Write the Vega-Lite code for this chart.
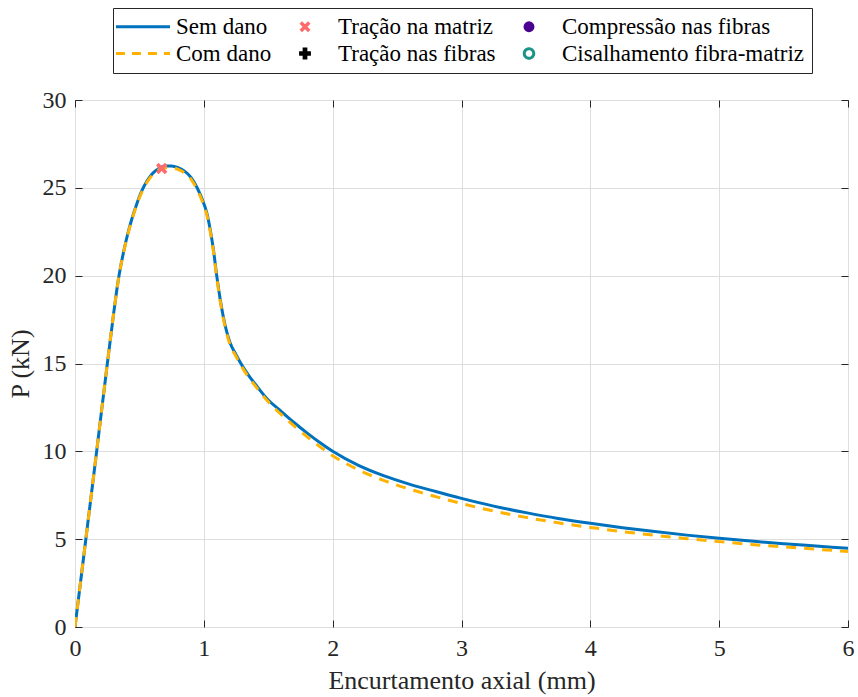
{
  "$schema": "https://vega.github.io/schema/vega-lite/v6.json",
  "autosize": {"type": "none"},
  "width": 773,
  "height": 527,
  "padding": {"left": 75, "top": 100, "right": 10, "bottom": 70},
  "background": "white",
  "config": {
    "font": "Liberation Serif",
    "view": {"stroke": "#262626", "strokeWidth": 1},
    "axis": {
      "labelFont": "Liberation Serif",
      "titleFont": "Liberation Serif",
      "labelFontSize": 24,
      "titleFontSize": 26,
      "titleFontWeight": "normal",
      "labelColor": "#262626",
      "titleColor": "#262626",
      "domainColor": "#262626",
      "tickColor": "#262626",
      "gridColor": "#DEDEDE",
      "gridWidth": 1
    }
  },
  "resolve": {"axis": {"x": "independent", "y": "independent"}},
  "datasets": {
    "curvas": [
      {"x": 0, "P": 0, "serie": "Sem dano"},
      {"x": 0.085, "P": 5.05, "serie": "Sem dano"},
      {"x": 0.168, "P": 10.0, "serie": "Sem dano"},
      {"x": 0.251, "P": 15.0, "serie": "Sem dano"},
      {"x": 0.3, "P": 17.85, "serie": "Sem dano"},
      {"x": 0.32, "P": 18.95, "serie": "Sem dano"},
      {"x": 0.336, "P": 19.75, "serie": "Sem dano"},
      {"x": 0.355, "P": 20.55, "serie": "Sem dano"},
      {"x": 0.38, "P": 21.45, "serie": "Sem dano"},
      {"x": 0.41, "P": 22.4, "serie": "Sem dano"},
      {"x": 0.44, "P": 23.2, "serie": "Sem dano"},
      {"x": 0.48, "P": 24.1, "serie": "Sem dano"},
      {"x": 0.52, "P": 24.85, "serie": "Sem dano"},
      {"x": 0.56, "P": 25.4, "serie": "Sem dano"},
      {"x": 0.6, "P": 25.8, "serie": "Sem dano"},
      {"x": 0.65, "P": 26.1, "serie": "Sem dano"},
      {"x": 0.7, "P": 26.24, "serie": "Sem dano"},
      {"x": 0.75, "P": 26.25, "serie": "Sem dano"},
      {"x": 0.8, "P": 26.15, "serie": "Sem dano"},
      {"x": 0.85, "P": 25.95, "serie": "Sem dano"},
      {"x": 0.9, "P": 25.6, "serie": "Sem dano"},
      {"x": 0.945, "P": 25.05, "serie": "Sem dano"},
      {"x": 0.99, "P": 24.3, "serie": "Sem dano"},
      {"x": 1.022, "P": 23.6, "serie": "Sem dano"},
      {"x": 1.05, "P": 22.6, "serie": "Sem dano"},
      {"x": 1.074, "P": 21.5, "serie": "Sem dano"},
      {"x": 1.1, "P": 20.0, "serie": "Sem dano"},
      {"x": 1.126, "P": 18.7, "serie": "Sem dano"},
      {"x": 1.15, "P": 17.7, "serie": "Sem dano"},
      {"x": 1.2, "P": 16.25, "serie": "Sem dano"},
      {"x": 1.25, "P": 15.5, "serie": "Sem dano"},
      {"x": 1.3, "P": 14.85, "serie": "Sem dano"},
      {"x": 1.35, "P": 14.3, "serie": "Sem dano"},
      {"x": 1.4, "P": 13.82, "serie": "Sem dano"},
      {"x": 1.5, "P": 12.92, "serie": "Sem dano"},
      {"x": 1.6, "P": 12.28, "serie": "Sem dano"},
      {"x": 1.7, "P": 11.64, "serie": "Sem dano"},
      {"x": 1.8, "P": 11.05, "serie": "Sem dano"},
      {"x": 1.9, "P": 10.5, "serie": "Sem dano"},
      {"x": 2.0, "P": 10.0, "serie": "Sem dano"},
      {"x": 2.2, "P": 9.2, "serie": "Sem dano"},
      {"x": 2.4, "P": 8.6, "serie": "Sem dano"},
      {"x": 2.6, "P": 8.12, "serie": "Sem dano"},
      {"x": 2.8, "P": 7.71, "serie": "Sem dano"},
      {"x": 3.0, "P": 7.32, "serie": "Sem dano"},
      {"x": 3.25, "P": 6.88, "serie": "Sem dano"},
      {"x": 3.5, "P": 6.51, "serie": "Sem dano"},
      {"x": 3.75, "P": 6.18, "serie": "Sem dano"},
      {"x": 4.0, "P": 5.9, "serie": "Sem dano"},
      {"x": 4.25, "P": 5.65, "serie": "Sem dano"},
      {"x": 4.5, "P": 5.43, "serie": "Sem dano"},
      {"x": 4.75, "P": 5.23, "serie": "Sem dano"},
      {"x": 5.0, "P": 5.05, "serie": "Sem dano"},
      {"x": 5.25, "P": 4.89, "serie": "Sem dano"},
      {"x": 5.5, "P": 4.74, "serie": "Sem dano"},
      {"x": 5.75, "P": 4.61, "serie": "Sem dano"},
      {"x": 6.0, "P": 4.48, "serie": "Sem dano"},
      {"x": 0, "P": 0, "serie": "Com dano"},
      {"x": 0.085, "P": 5.05, "serie": "Com dano"},
      {"x": 0.168, "P": 10.0, "serie": "Com dano"},
      {"x": 0.251, "P": 15.0, "serie": "Com dano"},
      {"x": 0.3, "P": 17.85, "serie": "Com dano"},
      {"x": 0.32, "P": 18.95, "serie": "Com dano"},
      {"x": 0.336, "P": 19.75, "serie": "Com dano"},
      {"x": 0.355, "P": 20.55, "serie": "Com dano"},
      {"x": 0.38, "P": 21.42, "serie": "Com dano"},
      {"x": 0.41, "P": 22.35, "serie": "Com dano"},
      {"x": 0.44, "P": 23.15, "serie": "Com dano"},
      {"x": 0.48, "P": 24.05, "serie": "Com dano"},
      {"x": 0.52, "P": 24.78, "serie": "Com dano"},
      {"x": 0.56, "P": 25.33, "serie": "Com dano"},
      {"x": 0.6, "P": 25.72, "serie": "Com dano"},
      {"x": 0.65, "P": 26.02, "serie": "Com dano"},
      {"x": 0.7, "P": 26.15, "serie": "Com dano"},
      {"x": 0.75, "P": 26.15, "serie": "Com dano"},
      {"x": 0.8, "P": 26.05, "serie": "Com dano"},
      {"x": 0.85, "P": 25.85, "serie": "Com dano"},
      {"x": 0.9, "P": 25.5, "serie": "Com dano"},
      {"x": 0.945, "P": 24.95, "serie": "Com dano"},
      {"x": 0.99, "P": 24.2, "serie": "Com dano"},
      {"x": 1.022, "P": 23.5, "serie": "Com dano"},
      {"x": 1.05, "P": 22.5, "serie": "Com dano"},
      {"x": 1.074, "P": 21.4, "serie": "Com dano"},
      {"x": 1.1, "P": 19.9, "serie": "Com dano"},
      {"x": 1.126, "P": 18.6, "serie": "Com dano"},
      {"x": 1.15, "P": 17.6, "serie": "Com dano"},
      {"x": 1.2, "P": 16.15, "serie": "Com dano"},
      {"x": 1.25, "P": 15.4, "serie": "Com dano"},
      {"x": 1.3, "P": 14.75, "serie": "Com dano"},
      {"x": 1.35, "P": 14.2, "serie": "Com dano"},
      {"x": 1.4, "P": 13.72, "serie": "Com dano"},
      {"x": 1.5, "P": 12.82, "serie": "Com dano"},
      {"x": 1.6, "P": 12.1, "serie": "Com dano"},
      {"x": 1.7, "P": 11.45, "serie": "Com dano"},
      {"x": 1.8, "P": 10.84, "serie": "Com dano"},
      {"x": 1.9, "P": 10.27, "serie": "Com dano"},
      {"x": 2.0, "P": 9.75, "serie": "Com dano"},
      {"x": 2.2, "P": 8.95, "serie": "Com dano"},
      {"x": 2.4, "P": 8.33, "serie": "Com dano"},
      {"x": 2.6, "P": 7.84, "serie": "Com dano"},
      {"x": 2.8, "P": 7.42, "serie": "Com dano"},
      {"x": 3.0, "P": 7.03, "serie": "Com dano"},
      {"x": 3.25, "P": 6.6, "serie": "Com dano"},
      {"x": 3.5, "P": 6.24, "serie": "Com dano"},
      {"x": 3.75, "P": 5.93, "serie": "Com dano"},
      {"x": 4.0, "P": 5.67, "serie": "Com dano"},
      {"x": 4.25, "P": 5.43, "serie": "Com dano"},
      {"x": 4.5, "P": 5.22, "serie": "Com dano"},
      {"x": 4.75, "P": 5.03, "serie": "Com dano"},
      {"x": 5.0, "P": 4.86, "serie": "Com dano"},
      {"x": 5.25, "P": 4.7, "serie": "Com dano"},
      {"x": 5.5, "P": 4.56, "serie": "Com dano"},
      {"x": 5.75, "P": 4.43, "serie": "Com dano"},
      {"x": 6.0, "P": 4.3, "serie": "Com dano"}
    ],
    "marcadores": [
      {"x": 0.673, "P": 26.1, "serie": "Tração na matriz"}
    ]
  },
  "layer": [
    {
      "data": {"name": "curvas"},
      "transform": [{"filter": "datum.serie == 'Sem dano'"}],
      "mark": {"type": "line", "strokeWidth": 3, "interpolate": "monotone", "clip": true},
      "encoding": {
        "x": {
          "field": "x", "type": "quantitative",
          "scale": {"domain": [0, 6], "nice": false, "zero": false},
          "axis": {
            "orient": "bottom",
            "title": "Encurtamento axial (mm)",
            "values": [0, 1, 2, 3, 4, 5, 6],
            "grid": true, "tickSize": -7, "labelPadding": 16, "titlePadding": 7,
            "domain": false, "labelFlush": false
          }
        },
        "y": {
          "field": "P", "type": "quantitative",
          "scale": {"domain": [0, 30], "nice": false},
          "axis": {
            "orient": "left",
            "title": "P (kN)",
            "values": [0, 5, 10, 15, 20, 25, 30],
            "grid": true, "tickSize": -7, "labelPadding": 16, "titlePadding": 9,
            "domain": false, "labelFlush": false
          }
        },
        "color": {
          "field": "serie", "type": "nominal",
          "scale": {
            "domain": ["Sem dano", "Tração na matriz", "Compressão nas fibras", "Com dano", "Tração nas fibras", "Cisalhamento fibra-matriz"],
            "range": ["#0072BD", "#FF6B6B", "#4B0092", "#FFB300", "#000000", "#1B9488"]
          },
          "legend": {
            "orient": "none",
            "legendX": 38,
            "legendY": -92,
            "title": null,
            "columns": 3,
            "direction": "horizontal",
            "labelFont": "Liberation Serif",
            "labelFontSize": 23,
            "labelColor": "#000000",
            "labelLimit": 500,
            "columnPadding": 10,
            "rowPadding": 3,
            "padding": 7,
            "strokeColor": "#262626",
            "fillColor": "white",
            "encode": {
              "symbols": {
                "update": {
                  "x": {"value": 23},
                  "size": {"signal": "(datum.value == 'Sem dano' || datum.value == 'Com dano') ? 2916 : (datum.value == 'Cisalhamento fibra-matriz' ? 90 : (datum.value == 'Tração nas fibras' ? 140 : 120))"},
                  "fillOpacity": {"signal": "(datum.value == 'Sem dano' || datum.value == 'Com dano' || datum.value == 'Cisalhamento fibra-matriz') ? 0 : 1"},
                  "strokeOpacity": {"value": 1},
                  "strokeWidth": {"signal": "(datum.value == 'Sem dano' || datum.value == 'Com dano') ? 3 : (datum.value == 'Cisalhamento fibra-matriz' ? 3 : 0)"},
                  "strokeDash": {"signal": "datum.value == 'Com dano' ? [9, 7] : [1, 0]"},
                  "opacity": {"value": 1}
                }
              },
              "labels": {
                "update": {
                  "x": {"value": 56}
                }
              }
            }
          }
        }
      }
    },
    {
      "data": {"name": "curvas"},
      "transform": [{"filter": "datum.serie == 'Com dano'"}],
      "mark": {"type": "line", "strokeWidth": 3, "strokeDash": [10, 8], "interpolate": "monotone", "clip": true},
      "encoding": {
        "x": {"field": "x", "type": "quantitative", "axis": null},
        "y": {"field": "P", "type": "quantitative", "axis": null},
        "color": {"field": "serie", "type": "nominal"}
      }
    },
    {
      "data": {"name": "marcadores"},
      "mark": {"type": "point", "filled": true, "opacity": 1, "size": 130},
      "encoding": {
        "x": {
          "field": "x", "type": "quantitative",
          "axis": {"orient": "top", "labels": false, "title": null, "grid": false, "domain": false, "tickSize": -7, "values": [0, 1, 2, 3, 4, 5, 6]}
        },
        "y": {
          "field": "P", "type": "quantitative",
          "axis": {"orient": "right", "labels": false, "title": null, "grid": false, "domain": false, "tickSize": -7, "values": [0, 5, 10, 15, 20, 25, 30]}
        },
        "color": {"field": "serie", "type": "nominal"},
        "shape": {
          "field": "serie", "type": "nominal",
          "scale": {
            "domain": ["Sem dano", "Tração na matriz", "Compressão nas fibras", "Com dano", "Tração nas fibras", "Cisalhamento fibra-matriz"],
            "range": ["stroke", "M-1,-0.55L-0.55,-1L0,-0.45L0.55,-1L1,-0.55L0.45,0L1,0.55L0.55,1L0,0.45L-0.55,1L-1,0.55L-0.45,0Z", "circle", "stroke", "cross", "circle"]
          }
        }
      }
    }
  ]
}
